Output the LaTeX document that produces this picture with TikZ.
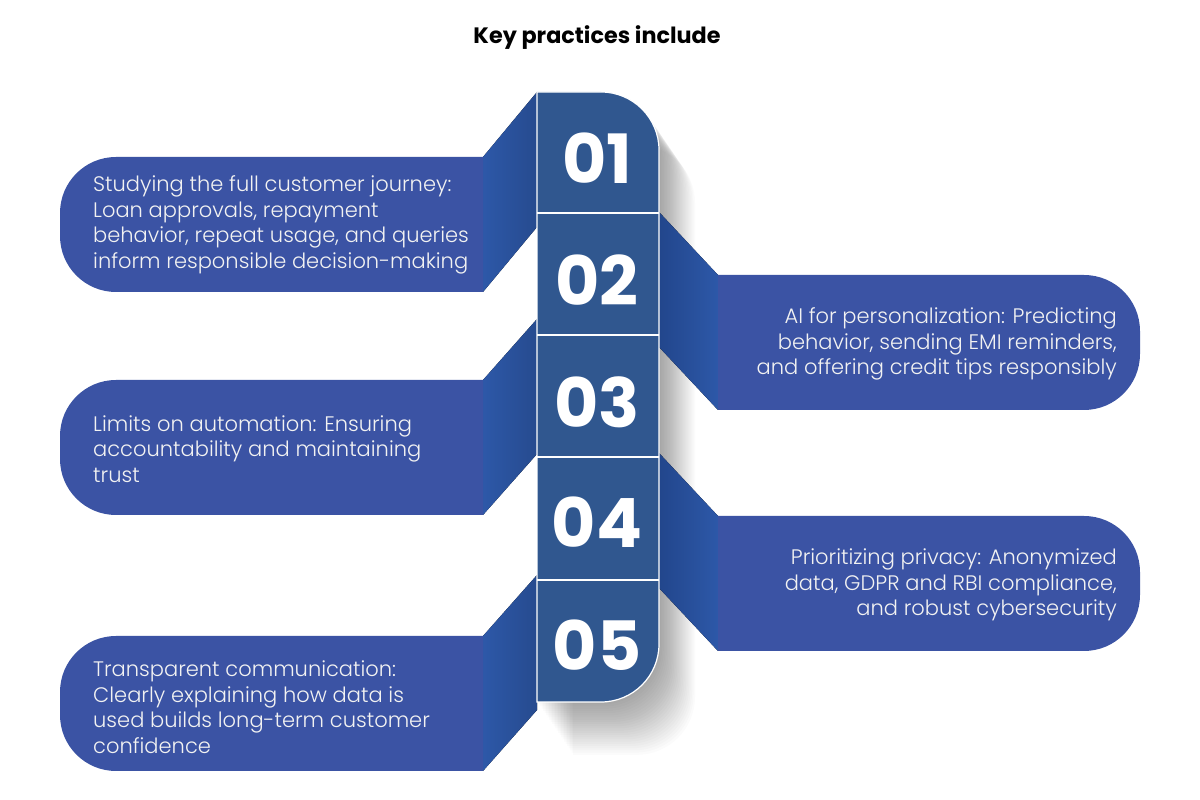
\documentclass[tikz,border=0pt]{standalone}
\usepackage{fontspec}
\setmainfont{Poppins}[UprightFont=* Light, BoldFont=* Bold]
\definecolor{colblue}{HTML}{30578F}
\definecolor{boxblue}{HTML}{3B53A4}
\definecolor{conlight}{HTML}{2D58A8}
\definecolor{condark}{HTML}{22468C}
\definecolor{txtwhite}{HTML}{F2F2F2}
\begin{document}
\begin{tikzpicture}[x=1pt,y=1pt,
  txt/.style={text=txtwhite, inner sep=0pt, font=\fontsize{21}{25.5}\selectfont},
  num/.style={text=white, inner sep=0pt, font=\fontsize{68}{68}\bfseries\selectfont},
  boxfill/.style={fill=boxblue},
  lcon/.style={left color=conlight, right color=conlight!85!black},
  rcon/.style={left color=condark, right color=conlight},
  shade/.style={fill=black, opacity=0.016},
]
\useasboundingbox (0,0) rectangle (1200,800);
\fill[white] (0,0) rectangle (1200,800);

\node[inner sep=0pt, font=\fontsize{22.3}{24}\bfseries\selectfont] (title) at (597,762) {Key practices include};

% column shadow
\foreach \i in {1,...,24}{
  \fill[shade, shift={(\i*1.5,-\i*2.2)}]
  (537,708) -- (601,708) arc[start angle=90,end angle=0,radius=58] -- (659,156) arc[start angle=0,end angle=-90,radius=58] -- (537,98) -- cycle;
}

% connectors
\fill[lcon] (483,643) -- (537,708) -- (537,573) -- (483,508) -- cycle;
\fill[lcon] (483,420) -- (537,481) -- (537,346) -- (483,285) -- cycle;
\fill[lcon] (483,164) -- (537,225) -- (537,90) -- (483,29) -- cycle;
\fill[rcon] (659,588) -- (718,525) -- (718,390) -- (659,453) -- cycle;
\fill[rcon] (659,347) -- (718,284) -- (718,149) -- (659,212) -- cycle;

% left boxes
\fill[boxfill] (483,643) -- (116,643) arc[start angle=90,end angle=180,radius=56] -- (60,564) arc[start angle=180,end angle=270,radius=56] -- (483,508) -- cycle;
\fill[boxfill] (483,420) -- (116,420) arc[start angle=90,end angle=180,radius=56] -- (60,341) arc[start angle=180,end angle=270,radius=56] -- (483,285) -- cycle;
\fill[boxfill] (483,164) -- (116,164) arc[start angle=90,end angle=180,radius=56] -- (60,85) arc[start angle=180,end angle=270,radius=56] -- (483,29) -- cycle;
% right boxes
\fill[boxfill] (718,525) -- (1084,525) arc[start angle=90,end angle=0,radius=56] -- (1140,446) arc[start angle=0,end angle=-90,radius=56] -- (718,390) -- cycle;
\fill[boxfill] (718,284) -- (1084,284) arc[start angle=90,end angle=0,radius=56] -- (1140,205) arc[start angle=0,end angle=-90,radius=56] -- (718,149) -- cycle;

% column
\fill[colblue, draw=white, line width=1.2pt]
  (537,708) -- (601,708) arc[start angle=90,end angle=0,radius=58] -- (659,156) arc[start angle=0,end angle=-90,radius=58] -- (537,98) -- cycle;
\foreach \yy in {587,465,343,220} \draw[white, line width=1.6pt] (537,\yy) -- (659,\yy);

% numbers
\node[num] (n1) at (597,642) {01};
\node[num] (n2) at (597,520) {02};
\node[num] (n3) at (597,398) {03};
\node[num] (n4) at (597,278) {04};
\node[num] (n5) at (597,155) {05};

% texts
\node[txt, anchor=west, align=left] (t1) at (93,575) {Studying the full customer journey:\\Loan approvals, repayment\\behavior, repeat usage, and queries\\inform responsible decision-making};
\node[txt, anchor=east, align=right] (t2) at (1117,456) {AI for personalization: Predicting\\behavior, sending EMI reminders,\\and offering credit tips responsibly};
\node[txt, anchor=west, align=left] (t3) at (93,351) {Limits on automation: Ensuring\\accountability and maintaining\\trust};
\node[txt, anchor=east, align=right] (t4) at (1117,215) {Prioritizing privacy: Anonymized\\data, GDPR and RBI compliance,\\and robust cybersecurity};
\node[txt, anchor=west, align=left] (t5) at (93,93) {Transparent communication:\\Clearly explaining how data is\\used builds long-term customer\\confidence};
\end{tikzpicture}
\end{document}
